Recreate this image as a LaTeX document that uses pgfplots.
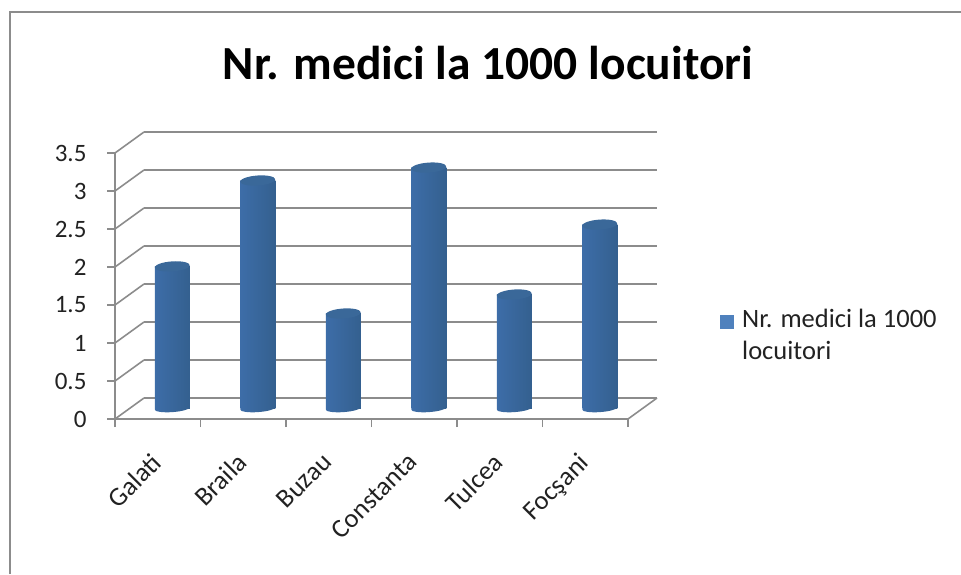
\documentclass[border=0pt]{standalone}
\usepackage{pgfplots}
\pgfplotsset{compat=1.18}
\usepackage{fontspec}
\setmainfont{Carlito}
\definecolor{gridc}{HTML}{8C8C8C}
\definecolor{barL}{HTML}{3D6DA8}
\definecolor{barM}{HTML}{5A8DD0}
\definecolor{barR}{HTML}{34608F}
\definecolor{barT}{HTML}{3A6899}
\definecolor{txt}{HTML}{222222}
\pgfdeclareplotmark{cyltop}{\pgfsetcolor{barT}\pgftransformrotate{4}\pgfpathellipse{\pgfpointorigin}{\pgfpoint{17.5pt}{0pt}}{\pgfpoint{0pt}{5pt}}\pgfusepathqfill}
\pgfdeclareplotmark{cylbase}{\pgftransformrotate{4}\path[draw=none,left color=barL,middle color=barM,right color=barR,shading angle=90] (0,0) ellipse [x radius=17.5pt,y radius=3.6pt];}
\pgfplotsset{cyl/.style={ybar,bar width=35pt,bar shift=0pt,xshift=14.5pt,yshift=10.5pt,draw=none,
  left color=barL,middle color=barM,right color=barR,shading angle=90,forget plot}}
\begin{document}
\begin{tikzpicture}[x=1pt,y=1pt]
\useasboundingbox (0,0) rectangle (961,574);
\draw[gridc,line width=2pt] (9.5,0) -- (9.5,562) -- (961,562);
\node[font=\bfseries\fontsize{47.5}{48}\selectfont,anchor=base,text=black] at (488,494) {Nr. medici la 1000 locuitori};
\begin{axis}[
  at={(115pt,155pt)},anchor=south west,scale only axis,width=513pt,height=266pt,
  xmin=0,xmax=6,ymin=0,ymax=3.5,clip=false,
  axis x line=bottom,axis y line=left,axis line style={gridc,line width=1.6pt,-},
  xtick={0.5,1.5,2.5,3.5,4.5,5.5},
  xticklabels={Galati,Braila,Buzau,Constanta,Tulcea,Focşani},
  minor xtick={0,1,2,3,4,5,6},
  major x tick style={draw=none},
  minor x tick style={gridc,line width=1.6pt},
  minor tick length=8pt,
  ytick={0,0.5,1,1.5,2,2.5,3,3.5},
  yticklabels={0,0.5,1,1.5,2,2.5,3,3.5},
  major y tick style={gridc,line width=1.6pt},
  tick align=outside,
  major tick length=8pt,
  ticklabel style={font=\fontsize{25}{25}\selectfont,text=txt},
  xticklabel style={rotate=45,anchor=north east,xshift=-19.5pt,yshift=-8.3pt,font=\fontsize{26.5}{26}\selectfont},
  yticklabel style={xshift=-17pt},
]
% back wall and floor lines
\pgfplotsinvokeforeach{0,0.5,1,1.5,2,2.5,3,3.5}{
  \draw[gridc,line width=1.6pt] (axis cs:0,#1) -- ++(29pt,21pt);
  \addplot[gridc,line width=1.6pt,xshift=29pt,yshift=21pt,forget plot] coordinates {(0,#1) (6,#1)};
}
\draw[gridc,line width=1.6pt] (axis cs:6,0) -- ++(29pt,21pt);
% cylinders
\addplot[only marks,mark=cylbase,xshift=14.5pt,yshift=10.5pt,forget plot] coordinates {
 (0.5,0) (1.5,0) (2.5,0) (3.5,0) (4.5,0) (5.5,0)};
\addplot[cyl] coordinates {(0.5,1.87)};
\addplot[cyl] coordinates {(1.5,3.0)};
\addplot[cyl] coordinates {(2.5,1.25)};
\addplot[cyl] coordinates {(3.5,3.17)};
\addplot[cyl] coordinates {(4.5,1.5)};
\addplot[cyl] coordinates {(5.5,2.42)};
\addplot[only marks,mark=cyltop,xshift=14.5pt,yshift=10.5pt,forget plot] coordinates {
 (0.5,1.87) (1.5,3.0) (2.5,1.25) (3.5,3.17) (4.5,1.5) (5.5,2.42)};
\end{axis}
\definecolor{legc}{HTML}{4F81BD}
\fill[fill=legc] (720,245) rectangle (734,259.5);
\node[anchor=north west,align=left,inner sep=0pt,text=txt,font=\fontsize{26.5}{32}\selectfont] at (742,265) {Nr. medici la 1000\\locuitori};
\end{tikzpicture}
\end{document}
